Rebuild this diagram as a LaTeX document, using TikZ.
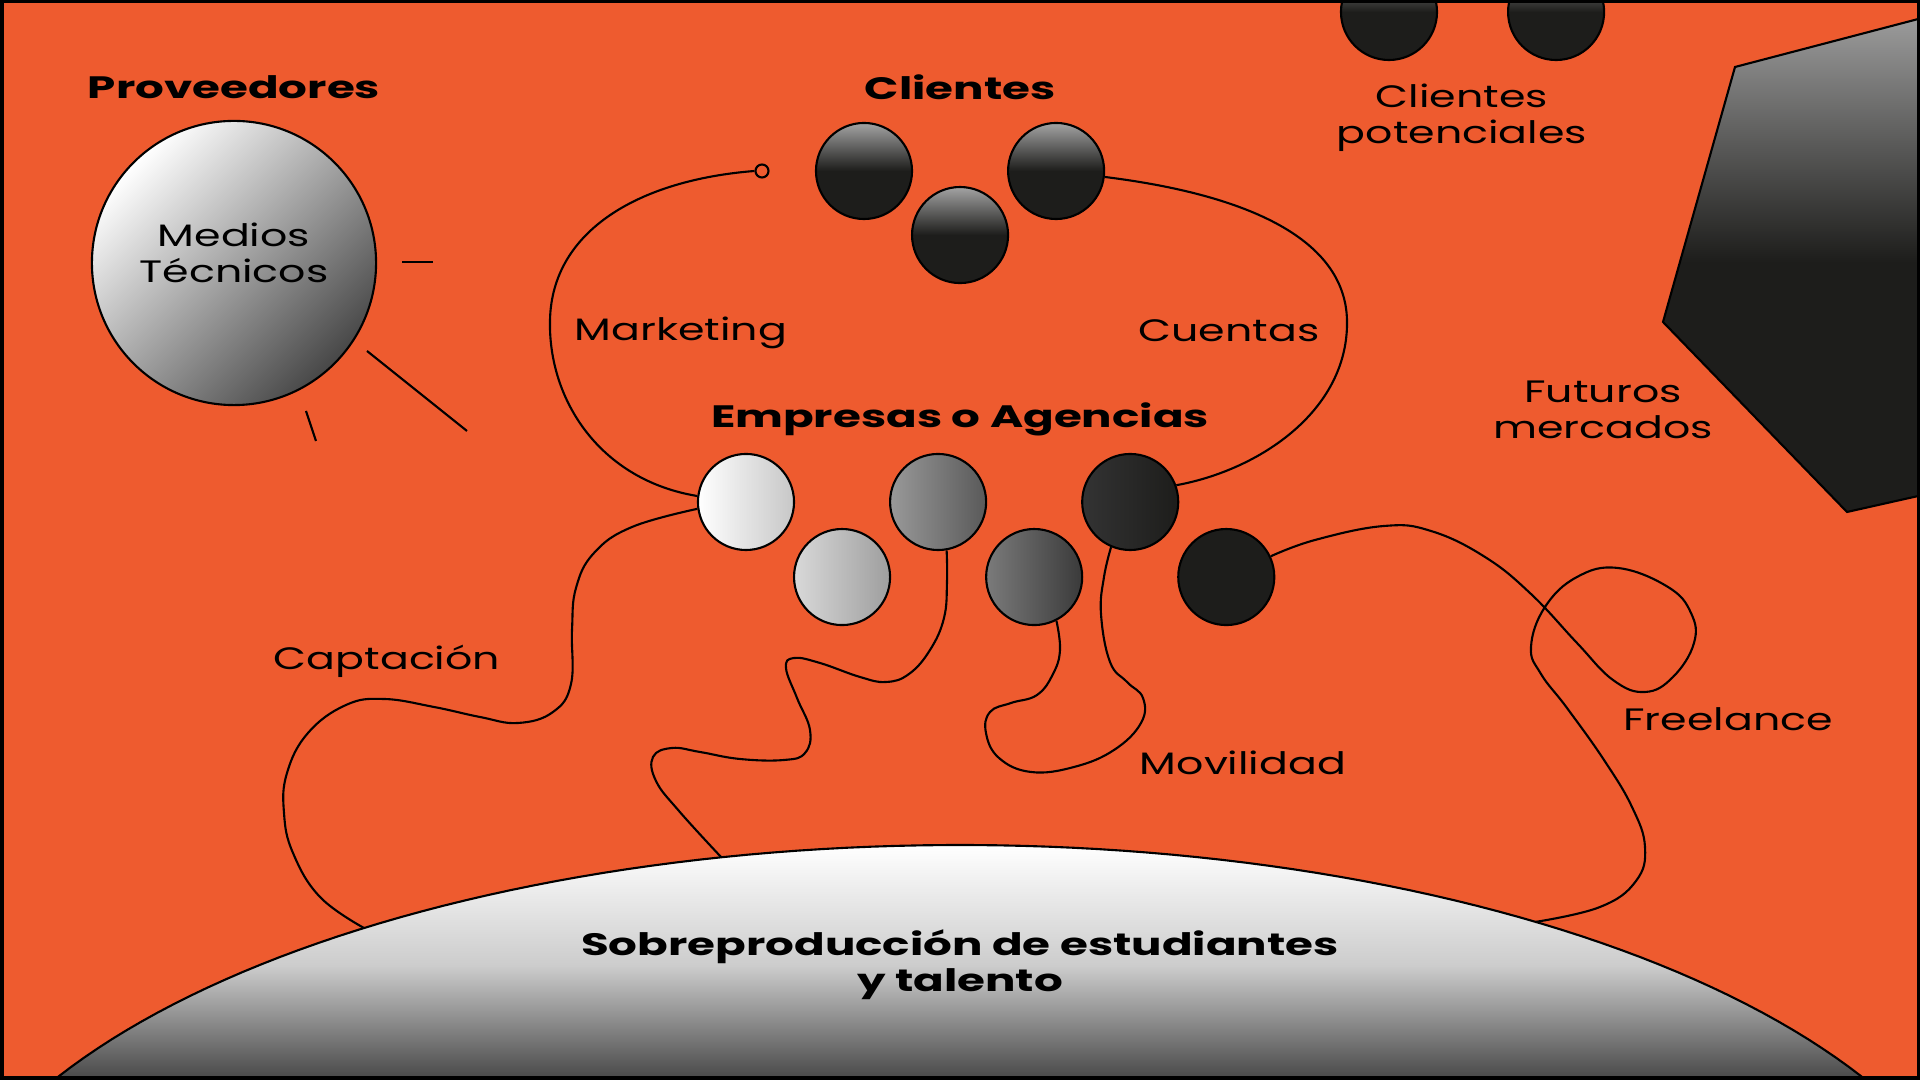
\documentclass[tikz,border=0pt]{standalone}
\usepackage{fontspec}
\setmainfont{Poppins}[FakeStretch=1.38, BoldFeatures={FakeStretch=1.46}]
\usetikzlibrary{positioning}
\definecolor{bgorange}{HTML}{EE5B2F}
\definecolor{ink}{HTML}{1D1D1B}

\begin{document}
\begin{tikzpicture}[x=0.01cm, y=-0.01cm, node distance=0.75cm and 0.96cm, on grid,
    ball/.style={circle, draw=black, line width=0.6pt, minimum size=0.96cm, inner sep=0pt},
    client/.style={ball, top color=black!36, bottom color=ink, middle color=ink},
    title/.style={font=\bfseries\fontsize{8.8}{10.2}\selectfont, align=center},
    tag/.style={font=\fontsize{8.8}{10.2}\selectfont, align=center},
    link/.style={draw=black, line width=0.6pt}]
    \useasboundingbox (0,0) rectangle (1920,1080);
    \fill[bgorange] (0,0) rectangle (1920,1080);
    \begin{scope}
    \clip (0,0) rectangle (1920,1080);
    % talent pool at the bottom
    \draw[line width=0.6pt, top color=white, bottom color=black!75, middle color=black!20]
        plot[domain=152:28, samples=90] ({960+1035*cos(\x)}, {1300-455*sin(\x)}) -- cycle;
    \node[title] (pool) at (960,965) {Sobreproducción de estudiantes\\y talento};
    \coordinate (pa) at (364,928);
    \coordinate (pb) at (721,857);
    \coordinate (pc) at (1535,922);
    % future markets
    \draw[line width=0.6pt, top color=black!38, bottom color=ink, middle color=ink]
        (1735,67) -- (1945,12) -- (1945,490) -- (1847,512) -- (1663,322) -- cycle;
    \node[tag] (fut) at (1603,410) {Futuros\\mercados};
    % providers
    \node[ball, minimum size=2.84cm, top color=white, bottom color=black!72, shading angle=45] (medios) at (234,263) {};
    \node[tag] (medtxt) at (234,253) {Medios\\Técnicos};
    \node[title, above=1.76cm of medios] (prov) {Proveedores};
    \draw[link] (402,262) -- (433,262);
    \draw[link] (367,351) -- (467,431);
    \draw[link] (306,411) -- (316,441);
    % clients
    \node[client] (c1) at (864,171) {};
    \node[client, below right=0.64cm and 0.96cm of c1] (c2) {};
    \node[client, above right=0.64cm and 0.96cm of c2] (c3) {};
    \node[title, above=1.48cm of c2] (cli) {Clientes};
    \node[circle, draw, line width=0.6pt, minimum size=0.13cm, inner sep=0pt] (mk) at (762,171) {};
    % potential clients
    \node[client] (pt1) at (1389,12) {};
    \node[client, right=1.67cm of pt1] (pt2) {};
    \node[tag] (pot) at (1462,118) {Clientes\\potenciales};
    % companies
    \node[ball, left color=white, right color=black!22] (e1) at (746,502) {};
    \node[ball, left color=black!15, right color=black!38, below right=of e1] (e2) {};
    \node[ball, left color=black!40, right color=black!65, above right=of e2] (e3) {};
    \node[ball, left color=black!52, right color=black!77, below right=of e3] (e4) {};
    \node[ball, left color=black!80, right color=ink, above right=of e4] (e5) {};
    \node[ball, fill=ink, below right=of e5] (e6) {};
    \node[title] (emp) at (960,419) {Empresas o Agencias};
    % links
    \draw[link] (e1.173) .. controls (600,480) and (548,400) .. (550,320)
        .. controls (552,230) and (640,180) .. (mk.west);
    \draw[link] (c3.-7) .. controls (1250,195) and (1345,240) .. (1347,320)
        .. controls (1349,410) and (1260,470) .. (e5.20);
    \draw[link] plot[smooth, tension=0.7] coordinates {(e1.188) (632,527) (594,553) (576,588) (572,630) (571,684) (553,712) (518,723) (480,717) (434,707) (384,699) (346,705) (308,733) (287,773) (284,813) (293,853) (320,897) (pa)};
    \draw[link] plot[smooth, tension=0.7] coordinates {(e3.-80) (947,582) (944,618) (930,650) (909,674) (886,682) (860,677) (820,663) (794,658) (786,668) (797,698) (810,730) (805,753) (784,760) (740,759) (700,752) (672,748) (653,757) (656,781) (679,811) (pb)};
    \draw[link] plot[smooth, tension=0.7] coordinates {(e4.-63) (1060,650) (1053,674) (1037,695) (1011,703) (990,712) (986,733) (999,758) (1031,772) (1074,767) (1114,750) (1141,723) (1143,698) (1127,682) (1110,662) (1101,614) (1104,577) (e5.-113)};
    \draw[link] plot[smooth, tension=0.7] coordinates {(e6.25) (1315,540) (1384,526) (1431,531) (1485,557) (1531,594) (1577,643) (1613,680) (1645,692) (1673,677) (1694,643) (1691,613) (1668,587) (1618,568) (1577,577) (1545,607) (1531,647) (1541,674) (1567,708) (1604,760) (1632,807) (1645,847) (1636,881) (1600,907) (pc)};
    % labels
    \node[tag] (mkt) at (681,333) {Marketing};
    \node[tag] (cta) at (1229,331) {Cuentas};
    \node[tag] (cap) at (387,661) {Captación};
    \node[tag] (mov) at (1243,763) {Movilidad};
    \node[tag] (fre) at (1728,719) {Freelance};
    \end{scope}
    \draw[line width=0.035cm] (1.75,1.75) rectangle (1918.25,1078.25);
\end{tikzpicture}
\end{document}
